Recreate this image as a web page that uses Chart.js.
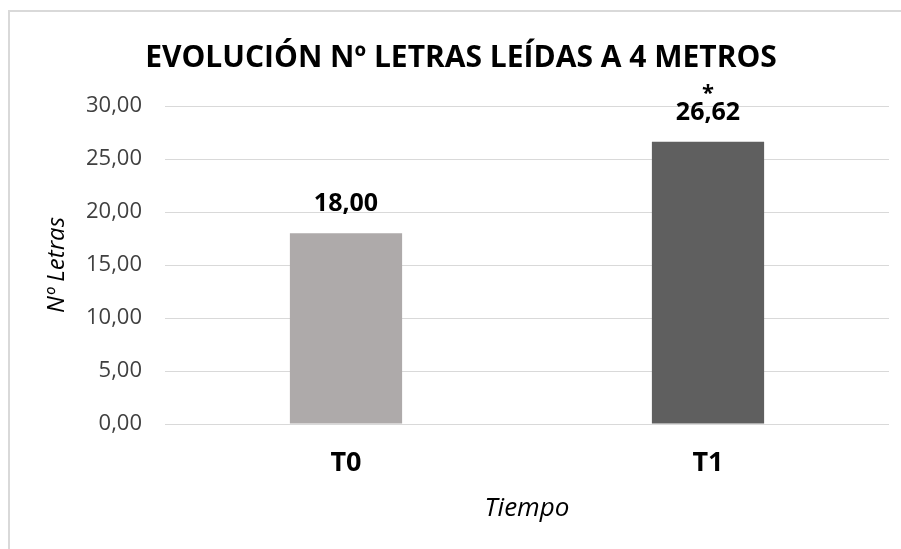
<!DOCTYPE html>
<html>
<head>
<meta charset="utf-8">
<script src="https://cdn.jsdelivr.net/npm/chart.js@4"></script>
<style>
  html, body { margin: 0; padding: 0; overflow: hidden; background: #fff; }
  #frame {
    position: absolute; left: 8px; top: 10px;
    width: 1000px; height: 1000px;
    border: 2px solid #d9d9d9;
  }
  #wrap { position: absolute; left: 0; top: 0; width: 901px; height: 549px; }
</style>
</head>
<body>
<div id="frame"></div>
<div id="wrap"><canvas id="chart"></canvas></div>
<script>
const categories = ["T0", "T1"];
const values = [18.00, 26.62];
const barColors = ["#aeaaaa", "#5f5f5f"];
const marks = ["", "*"];
const yMin = 0;
const yMax = 30;
const yStep = 5;
const chartTitle = "EVOLUCIÓN Nº LETRAS LEÍDAS A 4 METROS";

const fontFamily = "'Open Sans', 'Noto Sans', sans-serif";
const fmt = v => v.toFixed(2).replace(".", ",");

// title is drawn by hand so it can sit a bit right of the plot centre, like the original
const titlePlugin = {
    id: "titlePlugin",
    afterDraw(chart) {
        const ctx = chart.ctx;
        ctx.save();
        ctx.font = "bold 30px " + fontFamily;
        ctx.fillStyle = "#000";
        ctx.textAlign = "center";
        ctx.textBaseline = "middle";
        ctx.fillText(chartTitle, 461, 58);
        ctx.restore();
    }
};

const valueLabels = {
    id: "valueLabels",
    afterDatasetsDraw(chart) {
        const ctx = chart.ctx;
        const meta = chart.getDatasetMeta(0);
        ctx.save();
        ctx.textAlign = "center";
        ctx.textBaseline = "middle";
        ctx.fillStyle = "#000";
        meta.data.forEach((bar, i) => {
            ctx.font = "bold 25px " + fontFamily;
            ctx.fillText(fmt(values[i]), bar.x, bar.y - 29);
            if (marks[i]) {
                ctx.font = "bold 22px " + fontFamily;
                ctx.fillText(marks[i], bar.x, bar.y - 48);
            }
        });
        ctx.restore();
    }
};

new Chart(document.getElementById("chart"), {
    type: "bar",
    data: {
        labels: categories,
        datasets: [{
            data: values,
            backgroundColor: barColors,
            barPercentage: 0.31,
            categoryPercentage: 1
        }]
    },
    options: {
        responsive: true,
        maintainAspectRatio: false,
        animation: false,
        layout: { padding: { left: 0, right: 12, top: 106, bottom: 25 } },
        plugins: {
            legend: { display: false },
            tooltip: { enabled: false },
            title: { display: false }
        },
        scales: {
            x: {
                grid: { display: false, drawTicks: false },
                border: { display: false },
                ticks: {
                    color: "#000",
                    padding: 23,
                    font: { family: fontFamily, size: 27, weight: "bold" }
                },
                title: {
                    display: true,
                    text: "Tiempo",
                    color: "#000",
                    font: { family: fontFamily, size: 26, style: "italic" },
                    padding: 0
                },
                afterFit(scale) { scale.height = 100; }
            },
            y: {
                min: yMin,
                max: yMax,
                grid: { color: "#d9d9d9", drawTicks: false },
                border: { display: false },
                ticks: {
                    stepSize: yStep,
                    color: "#404040",
                    padding: 23,
                    font: { family: fontFamily, size: 22 },
                    callback: v => fmt(v)
                },
                title: {
                    display: true,
                    text: "Nº Letras",
                    color: "#000",
                    font: { family: fontFamily, size: 24, style: "italic" },
                    padding: { top: 43, bottom: 0 }
                },
                afterFit(scale) { scale.width = 165; }
            }
        }
    },
    plugins: [valueLabels, titlePlugin]
});
</script>
</body>
</html>
